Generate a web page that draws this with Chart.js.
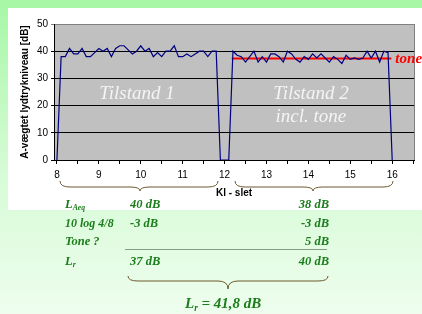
<!DOCTYPE html>
<html lang="da">
<head>
<meta charset="UTF-8">
<title>Tilstand 1 / Tilstand 2</title>
<script src="https://cdn.jsdelivr.net/npm/chart.js"></script>
<style>
    body { margin: 0; width: 422px; height: 314px; overflow: hidden; position: relative;
           background: linear-gradient(to bottom, #a6f7a6 0%, #d6fbd6 55%, #eefdee 100%);
           font-family: "Liberation Serif", "Times New Roman", serif; }
    .panel { position: absolute; left: 8px; top: 8px; width: 414px; height: 202px; background: #fff; }
    #chart { position: absolute; left: 8px; top: 8px; }
    .txt { position: absolute; color: #1b7d1b; font-weight: bold; font-style: italic; font-size: 12.5px;
           line-height: 14px; white-space: nowrap; }
    .txt sub { font-size: 0.62em; vertical-align: -0.3em; line-height: 0; }
    .r { text-align: right; }
    svg { position: absolute; left: 0; top: 0; }
</style>
</head>
<body>
<div class="panel"></div>
<canvas id="chart" width="414" height="202"></canvas>

<svg width="422" height="314">
    <path d="M60 181 Q60 187 70 187 L130 187 Q140 187 140 191 Q140 187 150 187 L208 187 Q218 187 218 181" fill="none" stroke="#6b5a2e" stroke-width="1"/>
    <path d="M235 181 Q235 187 245 187 L303 187 Q313 187 313 191 Q313 187 323 187 L383 187 Q393 187 393 181" fill="none" stroke="#6b5a2e" stroke-width="1"/>
    <line x1="125" y1="249.5" x2="327" y2="249.5" stroke="#8a9a8a" stroke-width="1"/>
    <path d="M128 276 Q128 281 138 281 L218 281 Q228 281 228 289 Q228 281 238 281 L318 281 Q328 281 328 276" fill="none" stroke="#6b5a2e" stroke-width="1"/>
</svg>

<div class="txt" style="left:65px; top:197px;">L<sub>Aeq</sub></div>
<div class="txt" style="left:130px; top:197px;">40 dB</div>
<div class="txt r" style="right:93px; top:197px;">38 dB</div>

<div class="txt" style="left:65px; top:216px; font-size:12px;">10 log 4/8</div>
<div class="txt" style="left:130px; top:216px;">-3 dB</div>
<div class="txt r" style="right:93px; top:216px;">-3 dB</div>

<div class="txt" style="left:65px; top:234px;">Tone ?</div>
<div class="txt r" style="right:93px; top:234px;">5 dB</div>

<div class="txt" style="left:65px; top:254px;">L<sub>r</sub></div>
<div class="txt" style="left:130px; top:254px;">37 dB</div>
<div class="txt r" style="right:93px; top:254px;">40 dB</div>

<div class="txt" style="left:185px; top:294px; font-size:15px; line-height:18px;">L<sub>r</sub> = 41,8 dB</div>

<script>
// klokkeslet (timer) og A-vægtet niveau
const hours = [
    8.0, 8.1, 8.2, 8.3, 8.4, 8.5, 8.6, 8.7, 8.8, 8.9,
    9.0, 9.1, 9.2, 9.3, 9.4, 9.5, 9.6, 9.7, 9.8, 9.9,
    10.0, 10.1, 10.2, 10.3, 10.4, 10.5, 10.6, 10.7, 10.8, 10.9,
    11.0, 11.1, 11.2, 11.3, 11.4, 11.5, 11.6, 11.7, 11.8, 11.9,
    12.0, 12.1, 12.2, 12.3, 12.4, 12.5, 12.6, 12.7, 12.8, 12.9,
    13.0, 13.1, 13.2, 13.3, 13.4, 13.5, 13.6, 13.7, 13.8, 13.9,
    14.0, 14.1, 14.2, 14.3, 14.4, 14.5, 14.6, 14.7, 14.8, 14.9,
    15.0, 15.1, 15.2, 15.3, 15.4, 15.5, 15.6, 15.7, 15.8, 15.9,
    16.0
];
const level = [
    0, 38, 38, 41, 39, 39, 41, 38, 38, 39.5,
    41, 40, 41, 38, 41, 42, 42, 40.5, 39, 40,
    42, 40, 41, 38, 39.5, 38, 40, 40, 42, 38,
    38, 39, 38, 39, 40, 40, 38, 40, 40, 0,
    0, 0, 40, 38.5, 38, 36, 38, 40, 36, 38,
    36, 39, 39, 38, 36, 40, 39, 37, 36, 38,
    37, 39, 37.5, 39, 37.5, 36, 38, 37, 35.5, 38.5,
    37, 37.5, 37, 37.5, 40, 37.5, 40, 36, 40, 39.5,
    0
];
const toneHours = [12.17, 15.98];
const toneLevel = [37.3, 37.3];

const hourTicks = [8, 8.5, 9, 9.5, 10, 10.5, 11, 11.5, 12, 12.5, 13, 13.5, 14, 14.5, 15, 15.5, 16, 16.5];
const levelTicks = [0, 10, 20, 30, 40, 50];

const axisFont = { family: 'Liberation Sans, Arial, sans-serif', size: 10 };

const plotFrame = {
    id: 'plotFrame',
    beforeDraw(chart) {
        const { ctx, chartArea: a } = chart;
        ctx.save();
        ctx.fillStyle = '#c0c0c0';
        ctx.fillRect(a.left, a.top, a.right - a.left, a.bottom - a.top);
        ctx.restore();
    },
    beforeDatasetsDraw(chart) {
        const { ctx, chartArea: a, scales: { x, y } } = chart;
        ctx.save();
        ctx.strokeStyle = '#808080';
        ctx.lineWidth = 1;
        ctx.beginPath();
        ctx.moveTo(Math.round(a.right) + 0.5, a.top);
        ctx.lineTo(Math.round(a.right) + 0.5, a.bottom);
        ctx.stroke();

        ctx.fillStyle = '#f4f4f4';
        ctx.font = 'italic 19px "Liberation Serif", serif';
        ctx.textAlign = 'center';
        ctx.textBaseline = 'middle';
        ctx.fillText('Tilstand 1', x.getPixelForValue(9.91), y.getPixelForValue(24.3));
        ctx.fillText('Tilstand 2', x.getPixelForValue(14.06), y.getPixelForValue(24.3));
        ctx.fillText('incl. tone', x.getPixelForValue(14.06), y.getPixelForValue(15.8));
        ctx.restore();
    },
    afterDatasetsDraw(chart) {
        const { ctx, scales: { x, y } } = chart;
        ctx.save();
        ctx.fillStyle = '#ff0000';
        ctx.font = 'italic bold 15px "Liberation Serif", serif';
        ctx.textAlign = 'left';
        ctx.textBaseline = 'middle';
        ctx.fillText('tone', x.getPixelForValue(toneHours[1]) + 4, y.getPixelForValue(toneLevel[1]) + 1);
        ctx.restore();
    }
};

new Chart(document.getElementById('chart'), {
    type: 'line',
    data: {
        datasets: [{
            data: hours.map((h, i) => ({ x: h, y: level[i] })),
            borderColor: '#000080',
            borderWidth: 1.2,
            pointRadius: 0,
            tension: 0
        }, {
            data: toneHours.map((h, i) => ({ x: h, y: toneLevel[i] })),
            borderColor: '#ff0000',
            borderWidth: 2,
            pointRadius: 0,
            tension: 0
        }]
    },
    options: {
        responsive: false,
        animation: false,
        layout: { padding: { top: 16, right: 8, left: 0, bottom: 0 } },
        plugins: { legend: { display: false }, tooltip: { enabled: false } },
        scales: {
            x: {
                type: 'linear',
                min: 7.93,
                max: 16.52,
                afterBuildTicks: s => { s.ticks = hourTicks.map(v => ({ value: v })); },
                afterFit: s => { s.height = 50; },
                ticks: {
                    autoSkip: false, maxRotation: 0, padding: 5,
                    color: '#000', font: axisFont,
                    callback: v => Number.isInteger(v) ? v : ''
                },
                grid: { drawOnChartArea: false, tickLength: 4, color: '#000' },
                border: { color: '#000', width: 1 },
                title: {
                    display: true, text: 'Kl - slet', color: '#000',
                    font: { family: 'Liberation Sans, Arial, sans-serif', size: 10, weight: 'bold' },
                    padding: { top: 0, bottom: 11 }
                }
            },
            y: {
                min: 0,
                max: 50,
                afterBuildTicks: s => { s.ticks = levelTicks.map(v => ({ value: v })); },
                afterFit: s => { s.width = 46; },
                ticks: { padding: 3, color: '#000', font: axisFont },
                grid: {
                    tickLength: 3,
                    color: c => c.tick && c.tick.value === 50 ? '#808080' : '#000'
                },
                border: { color: '#000', width: 1 },
                title: {
                    display: true, text: 'A-vægtet lydtrykniveau [dB]', color: '#000',
                    font: { family: 'Liberation Sans, Arial, sans-serif', size: 10, weight: 'bold' },
                    padding: { top: 11, bottom: 0 }
                }
            }
        }
    },
    plugins: [plotFrame]
});
</script>
</body>
</html>
